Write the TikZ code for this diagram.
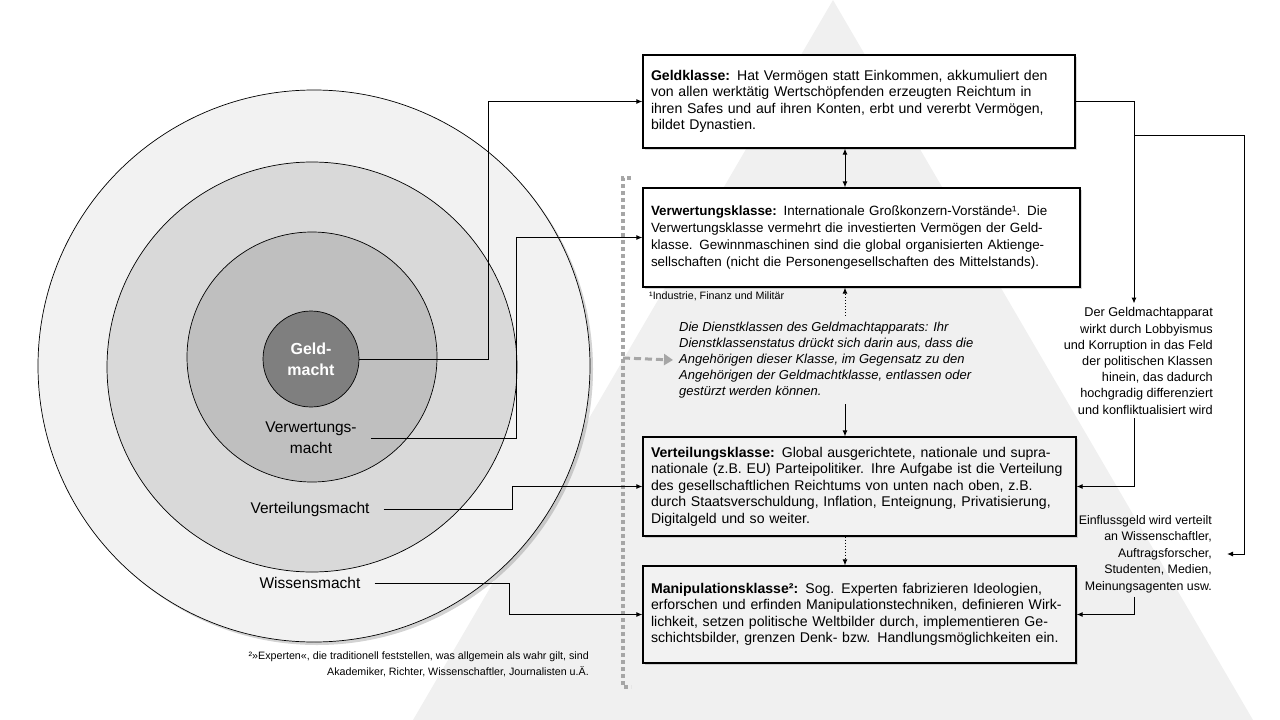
\documentclass[tikz,border=0pt]{standalone}
\usepackage{fontspec}
\setmainfont{Liberation Sans}
\usetikzlibrary{arrows.meta,shadows}
\definecolor{tri}{HTML}{F0F0F0}
\definecolor{strich}{HTML}{A6A6A6}
\definecolor{ring1}{HTML}{F2F2F2}
\definecolor{ring2}{HTML}{D9D9D9}
\definecolor{ring3}{HTML}{BFBFBF}
\definecolor{kern}{HTML}{7F7F7F}
\definecolor{boxgrau}{HTML}{F2F2F2}
\begin{document}
\begin{tikzpicture}[x=1pt,y=-1pt,
  klasse/.style={draw,line width=1.2pt,fill=white,align=left,inner xsep=8pt,inner ysep=4pt,
    font=\fontsize{14.1}{16.5}\selectfont,drop shadow={opacity=0.3,shadow xshift=2pt,shadow yshift=-2pt}},
  ring/.style={circle,draw,line width=0.7pt,inner sep=0pt},
  lbl/.style={font=\fontsize{15.5}{21}\selectfont,inner xsep=14pt,inner ysep=2pt},
  fn/.style={font=\fontsize{10.7}{16}\selectfont,inner sep=1pt},
  seite/.style={font=\fontsize{12.7}{16.2}\selectfont,align=right,inner xsep=3pt,inner ysep=4pt},
  pfeil/.style={line width=1pt,-{Latex[length=6pt,width=5pt]}}]
  \useasboundingbox (0,0) rectangle (1280,720);
  \fill[tri] (833,0) -- (1253,720) -- (413,720) -- cycle;
  \draw[strich,line width=4pt,dash pattern=on 4pt off 3pt] (631,178) -- (623,178) -- (623,687) -- (631,687);
  \coordinate (kl) at (623,358);
  % Machtkreise
  \node[ring,fill=ring1,minimum size=552pt,drop shadow={opacity=0.35,shadow xshift=3pt,shadow yshift=-3pt}] (wissen) at (314,366) {};
  \node[ring,fill=ring2,minimum size=410pt] (verteilung) at (312,367) {};
  \node[ring,fill=ring3,minimum size=250pt] (verwertung) at (312,357) {};
  \node[ring,fill=kern,minimum size=96pt,align=center,text=white,font=\bfseries\fontsize{16}{21}\selectfont] (geldmacht) at (311,359) {Geld-\\macht};
  \node[lbl,align=center] (lverw) at (311,438) {Verwertungs-\\macht};
  \node[lbl] (lverteil) at (310,509) {Verteilungsmacht};
  \node[lbl] (lwissen) at (310,583) {Wissensmacht};
  \node[fn,align=right,anchor=east] (fn2) at (590,664) {²»Experten«, die traditionell feststellen, was allgemein als wahr gilt, sind\\Akademiker, Richter, Wissenschaftler, Journalisten u.Ä.};
  % Klassen
  \node[klasse,text width=416pt,minimum height=93pt] (geld) at (859,101.5) {\textbf{Geldklasse:} Hat Vermögen statt Einkommen, akkumuliert den\\von allen werktätig Wertschöpfenden erzeugten Reichtum in\\ihren Safes und auf ihren Konten, erbt und vererbt Vermögen,\\bildet Dynastien.};
  \node[klasse,font=\fontsize{13.4}{17}\selectfont,text width=421pt,minimum height=99pt] (verw) at (861.5,237.5) {\textbf{Verwertungsklasse:} Internationale Großkonzern-Vorstände¹. Die\\Verwertungsklasse vermehrt die investierten Vermögen der Geld-\\klasse. Gewinnmaschinen sind die global organisierten Aktienge-\\sellschaften (nicht die Personengesellschaften des Mittelstands).};
  \node[fn,anchor=west] (fn1) at (648,296) {¹Industrie, Finanz und Militär};
  \node[font=\itshape\fontsize{13}{16}\selectfont,align=left,anchor=west,inner sep=6pt] (dienst) at (673,360) {Die Dienstklassen des Geldmachtapparats: Ihr\\Dienstklassenstatus drückt sich darin aus, dass die\\Angehörigen dieser Klasse, im Gegensatz zu den\\Angehörigen der Geldmachtklasse, entlassen oder\\gestürzt werden können.};
  \node[klasse,fill=boxgrau,text width=417pt,minimum height=99pt] (verteil) at (859.5,486.5) {\textbf{Verteilungsklasse:} Global ausgerichtete, nationale und supra-\\nationale (z.B. EU) Parteipolitiker. Ihre Aufgabe ist die Verteilung\\des gesellschaftlichen Reichtums von unten nach oben, z.B.\\durch Staatsverschuldung, Inflation, Enteignung, Privatisierung,\\Digitalgeld und so weiter.};
  \node[klasse,fill=boxgrau,text width=417pt,minimum height=97pt] (manip) at (859.5,614.5) {\textbf{Manipulationsklasse²:} Sog. Experten fabrizieren Ideologien,\\erforschen und erfinden Manipulationstechniken, definieren Wirk-\\lichkeit, setzen politische Weltbilder durch, implementieren Ge-\\schichtsbilder, grenzen Denk- bzw. Handlungsmöglichkeiten ein.};
  \node[seite,anchor=east] (apparat) at (1216,361) {Der Geldmachtapparat\\wirkt durch Lobbyismus\\und Korruption in das Feld\\der politischen Klassen\\hinein, das dadurch\\hochgradig differenziert\\und konfliktualisiert wird};
  \node[seite,font=\fontsize{12.4}{16.5}\selectfont,anchor=east,inner xsep=15pt] (einfluss) at (1227,554) {Einflussgeld wird verteilt\\an Wissenschaftler,\\Auftragsforscher,\\Studenten, Medien,\\Meinungsagenten usw.};
  % Verbindungen
  \coordinate (mx) at (845,0);
  \coordinate (rx) at (1134,135);
  \draw[pfeil] (geldmacht.east) -- ++(129,0) |- (geld.west);
  \draw[pfeil] (lverw.east) -- ++(146,0) |- (verw.west);
  \draw[pfeil] (lverteil.east) -- ++(129,0) |- (verteil.west);
  \draw[pfeil] (lwissen.east) -- ++(135,0) |- (manip.west);
  \draw[line width=1pt,{Latex[length=6pt,width=5pt]}-{Latex[length=6pt,width=5pt]}] (mx |- geld.south) -- (mx |- verw.north);
  \draw[pfeil,dotted] (mx |- dienst.north) -- (mx |- verw.south);
  \draw[pfeil] (mx |- dienst.south) -- (mx |- verteil.north);
  \draw[pfeil,dotted] (mx |- verteil.south) -- (mx |- manip.north);
  \draw[strich,line width=3pt,dash pattern=on 7pt off 4pt,-{Triangle[length=9pt,width=11pt]}] (kl) -- (dienst.west);
  \draw[pfeil] (geld.east) -| (rx |- apparat.north);
  \draw[pfeil] (rx) -- ++(110,0) |- (einfluss.east);
  \draw[pfeil] (rx |- apparat.south) |- (verteil.east);
  \draw[pfeil] (rx |- einfluss.south) |- (manip.east);
\end{tikzpicture}
\end{document}
